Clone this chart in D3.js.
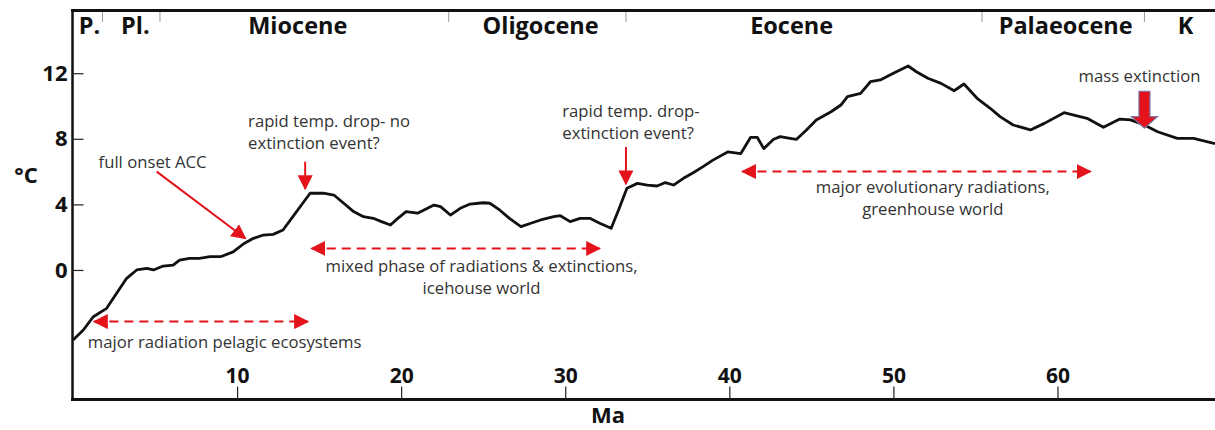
<!DOCTYPE html>
<html>
<head>
<meta charset="utf-8">
<script src="https://cdn.jsdelivr.net/npm/d3@7"></script>
<style>
  body { margin: 0; background: #fff; }
  svg { display: block; font-family: "Open Sans", sans-serif; }
</style>
</head>
<body>
<svg id="chart" width="1215" height="430"></svg>
<script>
// age (Ma) and temperature (°C)
const ageMa = [0, 0.63, 1.24, 2.05, 2.66, 3.27, 3.88, 4.5, 4.9, 5.5, 6.1, 6.5, 7.1, 7.7, 8.35, 9.0,
  9.76, 10.4, 11.0, 11.6, 12.2, 12.8, 13.4, 14.0, 14.45, 15.26, 15.9, 16.5, 17.1, 17.7, 18.3, 18.8,
  19.35, 19.8, 20.3, 21.0, 22.0, 22.4, 23.0, 23.6, 24.2, 25.0, 25.4, 26.0, 26.6, 27.3, 27.9, 28.5,
  29.3, 29.7, 30.3, 30.9, 31.5, 32.1, 32.8, 33.25, 33.76, 34.4, 35.0, 35.6, 36.1, 36.6, 37.2, 37.8,
  38.4, 39.0, 39.9, 40.7, 41.3, 41.7, 42.1, 42.7, 43.1, 43.7, 44.1, 44.7, 45.3, 46.2, 46.8, 47.2,
  48.0, 48.6, 49.2, 50.0, 50.9, 51.4, 52.1, 52.9, 53.7, 54.3, 55.1, 55.9, 56.5, 57.3, 58.35, 59.2,
  60.4, 61.0, 61.8, 62.8, 63.8, 64.45, 65.3, 66.1, 67.3, 68.3, 69.6];
const tempC = [-4.27, -3.66, -2.85, -2.34, -1.42, -0.51, 0, 0.1, 0, 0.24, 0.3, 0.6, 0.71, 0.71, 0.81, 0.81,
  1.1, 1.6, 1.93, 2.13, 2.17, 2.44, 3.25, 4.07, 4.68, 4.68, 4.57, 4.07, 3.56, 3.25, 3.15, 2.95,
  2.74, 3.15, 3.56, 3.46, 3.96, 3.86, 3.35, 3.76, 4.02, 4.1, 4.07, 3.66, 3.15, 2.64, 2.85, 3.05,
  3.25, 3.31, 2.95, 3.15, 3.15, 2.85, 2.54, 3.66, 4.98, 5.28, 5.18, 5.12, 5.33, 5.18, 5.59, 5.93,
  6.3, 6.7, 7.2, 7.1, 8.09, 8.09, 7.4, 7.97, 8.13, 8.03, 7.97, 8.54, 9.15, 9.65, 10.06, 10.57,
  10.77, 11.48, 11.59, 12.0, 12.44, 12.09, 11.69, 11.38, 10.93, 11.34, 10.47, 9.86, 9.35, 8.84, 8.54, 8.94,
  9.59, 9.45, 9.25, 8.7, 9.2, 9.15, 8.84, 8.43, 8.03, 8.03, 7.7];

const epochNames = ["P.", "Pl.", "Miocene", "Oligocene", "Eocene", "Palaeocene", "K"];
const epochBounds = [0, 1.8, 5.3, 22.9, 33.7, 55.4, 65.3, 69.6];
const epochLabelAt = [1.0, 3.8, 13.7, 28.5, 43.8, 60.5, 67.8];

const yTicks = [0, 4, 8, 12];
const xTicks = [10, 20, 30, 40, 50, 60];

const svg = d3.select("#chart");
const red = "#e4121b";

const x = d3.scaleLinear().domain([0, 69.6]).range([73, 1215]);
const y = d3.scaleLinear().domain([-7.9, 15.8]).range([399.5, 10.9]);

// arrow heads
const defs = svg.append("defs");
defs.append("marker")
    .attr("id", "head")
    .attr("viewBox", "0 0 10 10")
    .attr("refX", 9).attr("refY", 5)
    .attr("markerUnits", "userSpaceOnUse")
    .attr("markerWidth", 15).attr("markerHeight", 15)
    .attr("orient", "auto-start-reverse")
    .append("path")
    .attr("d", "M0,0 L10,5 L0,10 Z")
    .attr("fill", red);

// frame
svg.append("line")
    .attr("x1", 72.5).attr("x2", 72.5).attr("y1", 9).attr("y2", 401)
    .attr("stroke", "#111").attr("stroke-width", 2.5);
svg.append("line")
    .attr("x1", 71).attr("x2", 1215).attr("y1", 10.5).attr("y2", 10.5)
    .attr("stroke", "#111").attr("stroke-width", 3);
svg.append("line")
    .attr("x1", 71).attr("x2", 1215).attr("y1", 399.5).attr("y2", 399.5)
    .attr("stroke", "#111").attr("stroke-width", 3);

// y axis, ticks pointing inwards
const yAxis = svg.append("g")
    .attr("transform", "translate(72.5,0)")
    .call(d3.axisLeft(y).tickValues(yTicks).tickSize(-11).tickPadding(5));
yAxis.select(".domain").remove();
yAxis.selectAll(".tick line").attr("stroke", "#222").attr("stroke-width", 1.2);
yAxis.selectAll("text")
    .attr("font-family", "Open Sans").attr("font-weight", "bold")
    .attr("font-size", 22).attr("fill", "#111");

// x axis, labels above the line
const xAxis = svg.append("g")
    .attr("transform", "translate(0,399.5)")
    .call(d3.axisTop(x).tickValues(xTicks).tickSize(13).tickPadding(4));
xAxis.select(".domain").remove();
xAxis.selectAll(".tick line").attr("stroke", "#222").attr("stroke-width", 1.2);
xAxis.selectAll("text")
    .attr("font-family", "Open Sans").attr("font-weight", "bold")
    .attr("font-size", 21).attr("fill", "#111");

svg.append("text")
    .attr("x", 608).attr("y", 423)
    .attr("text-anchor", "middle")
    .attr("font-weight", "bold").attr("font-size", 22).attr("fill", "#111")
    .text("Ma");

svg.append("text")
    .attr("x", 26).attr("y", 183)
    .attr("text-anchor", "middle")
    .attr("font-weight", "bold").attr("font-size", 22).attr("fill", "#111")
    .text("°C");

// epoch band along the top
svg.selectAll(".epochTick")
    .data(epochBounds.slice(1, -1))
    .enter()
    .append("line")
    .attr("class", "epochTick")
    .attr("x1", d => x(d)).attr("x2", d => x(d))
    .attr("y1", 12).attr("y2", 22)
    .attr("stroke", "#999").attr("stroke-width", 1);

svg.selectAll(".epoch")
    .data(epochNames)
    .enter()
    .append("text")
    .attr("class", "epoch")
    .attr("x", (d, i) => x(epochLabelAt[i]))
    .attr("y", 34)
    .attr("text-anchor", "middle")
    .attr("font-weight", "bold").attr("font-size", 23.5).attr("fill", "#111")
    .text(d => d);

// temperature curve
const line = d3.line()
    .x(d => x(d[0]))
    .y(d => y(d[1]));

svg.append("path")
    .datum(d3.zip(ageMa, tempC))
    .attr("fill", "none")
    .attr("stroke", "#111")
    .attr("stroke-width", 2.8)
    .attr("stroke-linejoin", "round")
    .attr("d", line);

// dashed double arrows for the phases
const phases = [
    { from: 1.3, to: 14.3, at: -3.15 },
    { from: 14.55, to: 32.1, at: 1.31 },
    { from: 40.8, to: 62.0, at: 6.0 }
];
svg.selectAll(".phase")
    .data(phases)
    .enter()
    .append("line")
    .attr("class", "phase")
    .attr("x1", d => x(d.from)).attr("x2", d => x(d.to))
    .attr("y1", d => y(d.at)).attr("y2", d => y(d.at))
    .attr("stroke", red).attr("stroke-width", 2)
    .attr("stroke-dasharray", "9,6")
    .attr("marker-start", "url(#head)")
    .attr("marker-end", "url(#head)");

// pointer arrows
const pointers = [
    { x1: 5.1, y1: 6.0, x2: 10.5, y2: 1.93 },
    { x1: 14.15, y1: 6.6, x2: 14.15, y2: 4.95 },
    { x1: 33.7, y1: 7.5, x2: 33.7, y2: 5.25 }
];
svg.selectAll(".pointer")
    .data(pointers)
    .enter()
    .append("line")
    .attr("class", "pointer")
    .attr("x1", d => x(d.x1)).attr("y1", d => y(d.y1))
    .attr("x2", d => x(d.x2)).attr("y2", d => y(d.y2))
    .attr("stroke", red).attr("stroke-width", 2)
    .attr("marker-end", "url(#head)");

// block arrow for the mass extinction
const mx = x(65.3), mTop = y(10.9), mNeck = y(9.35), mTip = y(8.65);
svg.append("path")
    .attr("d", `M${mx - 5.5},${mTop} L${mx + 5.5},${mTop} L${mx + 5.5},${mNeck} L${mx + 13},${mNeck}
                L${mx},${mTip} L${mx - 13},${mNeck} L${mx - 5.5},${mNeck} Z`)
    .attr("fill", red)
    .attr("stroke", "#7c74a6").attr("stroke-width", 1.2);

// annotation texts
const notes = [
    { lines: ["full onset ACC"], at: 4.85, base: 6.2, anchor: "middle" },
    { lines: ["rapid temp. drop- no", "extinction event?"], at: 10.67, base: 8.72, anchor: "start" },
    { lines: ["rapid temp. drop-", "extinction event?"], at: 29.82, base: 9.35, anchor: "start" },
    { lines: ["mass extinction"], at: 65.0, base: 11.46, anchor: "middle" },
    { lines: ["major radiation pelagic ecosystems"], at: 0.9, base: -4.75, anchor: "start" },
    { lines: ["mixed phase of radiations & extinctions,", "icehouse world"], at: 24.9, base: -0.15, anchor: "middle" },
    { lines: ["major evolutionary radiations,", "greenhouse world"], at: 52.4, base: 4.7, anchor: "middle" }
];
notes.forEach(n => {
    const t = svg.append("text")
        .attr("x", x(n.at)).attr("y", y(n.base))
        .attr("text-anchor", n.anchor)
        .attr("font-size", 16.7).attr("fill", "#333");
    n.lines.forEach((s, i) => {
        t.append("tspan")
            .attr("x", x(n.at))
            .attr("dy", i === 0 ? 0 : 22)
            .text(s);
    });
});
</script>
</body>
</html>
